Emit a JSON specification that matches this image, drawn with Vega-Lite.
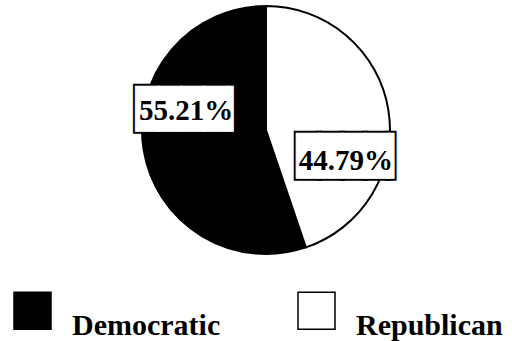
{
  "$schema": "https://vega.github.io/schema/vega-lite/v6.json",
  "width": 492,
  "height": 260,
  "autosize": {"type": "none"},
  "padding": {"left": 20, "top": 0, "right": 0, "bottom": 81},
  "background": "white",
  "data": {
    "values": [
      {"party": "Democratic", "share": 55.21, "label": "55.21%"},
      {"party": "Republican", "share": 44.79, "label": "44.79%"}
    ]
  },
  "encoding": {
    "theta": {"field": "share", "type": "quantitative", "stack": true},
    "order": {"field": "party", "type": "ordinal", "sort": "descending"}
  },
  "layer": [
    {
      "mark": {"type": "arc", "outerRadius": 124, "stroke": "black", "strokeWidth": 2},
      "encoding": {
        "color": {
          "field": "party",
          "type": "nominal",
          "scale": {"domain": ["Democratic", "Republican"], "range": ["black", "white"]},
          "legend": {
            "title": null,
            "orient": "none",
            "legendX": -7,
            "legendY": 291,
            "direction": "horizontal",
            "padding": 0,
            "symbolType": "square",
            "symbolSize": 1369,
            "symbolStrokeColor": "black",
            "symbolStrokeWidth": 1.5,
            "symbolOpacity": 1,
            "labelFont": "Liberation Serif",
            "labelFontSize": 30,
            "labelFontWeight": "bold",
            "labelColor": "black",
            "labelBaseline": "top",
            "labelOffset": 20,
            "labelLimit": 300,
            "columnPadding": 74
          }
        }
      }
    },
    {
      "mark": {"type": "text", "radius": 80, "dx": 6, "dy": -32, "text": "████▎", "font": "DejaVu Sans Mono", "fontSize": 38, "fill": "black", "stroke": "black", "strokeWidth": 5, "align": "center", "baseline": "middle"},
      "encoding": {"opacity": {"condition": {"test": "datum.party === 'Democratic'", "value": 1}, "value": 0}}
    },
    {
      "mark": {"type": "text", "radius": 80, "dx": 6, "dy": -32, "text": "████▎", "font": "DejaVu Sans Mono", "fontSize": 38, "fill": "white", "stroke": "white", "strokeWidth": 1, "align": "center", "baseline": "middle"},
      "encoding": {"opacity": {"condition": {"test": "datum.party === 'Democratic'", "value": 1}, "value": 0}}
    },
    {
      "mark": {"type": "text", "radius": 80, "dx": -1, "dy": -32, "font": "Liberation Serif", "fontSize": 29, "fontWeight": "bold", "fill": "black", "align": "center", "baseline": "middle"},
      "encoding": {
        "text": {"field": "label", "type": "nominal"},
        "opacity": {"condition": {"test": "datum.party === 'Democratic'", "value": 1}, "value": 0}
      }
    },
    {
      "mark": {"type": "text", "radius": 80, "dx": 9, "dy": 41, "text": "████▎", "font": "DejaVu Sans Mono", "fontSize": 38, "fill": "black", "stroke": "black", "strokeWidth": 5, "align": "center", "baseline": "middle"},
      "encoding": {"opacity": {"condition": {"test": "datum.party === 'Republican'", "value": 1}, "value": 0}}
    },
    {
      "mark": {"type": "text", "radius": 80, "dx": 9, "dy": 41, "text": "████▎", "font": "DejaVu Sans Mono", "fontSize": 38, "fill": "white", "stroke": "white", "strokeWidth": 1, "align": "center", "baseline": "middle"},
      "encoding": {"opacity": {"condition": {"test": "datum.party === 'Republican'", "value": 1}, "value": 0}}
    },
    {
      "mark": {"type": "text", "radius": 80, "dx": 1, "dy": 44, "font": "Liberation Serif", "fontSize": 29, "fontWeight": "bold", "fill": "black", "align": "center", "baseline": "middle"},
      "encoding": {
        "text": {"field": "label", "type": "nominal"},
        "opacity": {"condition": {"test": "datum.party === 'Republican'", "value": 1}, "value": 0}
      }
    }
  ],
  "config": {"view": {"stroke": null}}
}
